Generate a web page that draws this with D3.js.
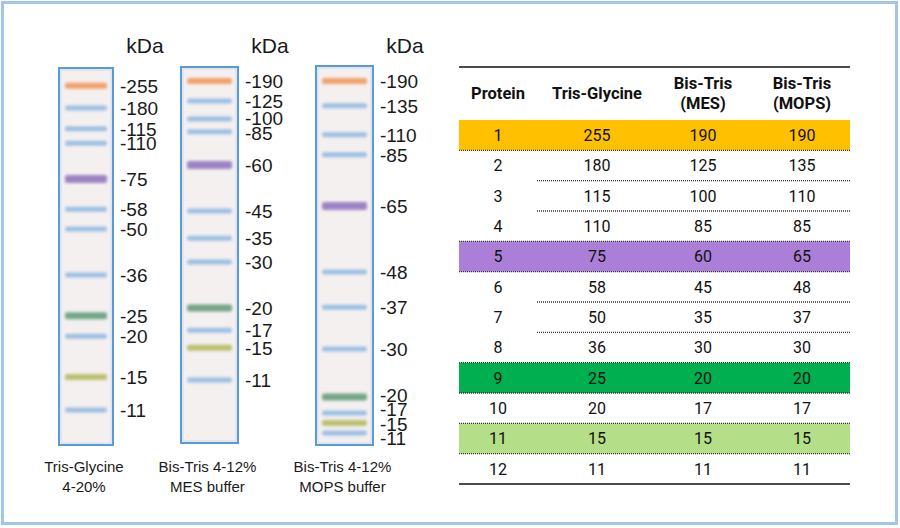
<!DOCTYPE html>
<html>
<head>
<meta charset="utf-8">
<script src="https://cdn.jsdelivr.net/npm/d3@7"></script>
<style>
  body { margin: 0; background: #fff; }
  svg { display: block; }
</style>
</head>
<body>
<div id="chart"></div>
<script>
// Marker proteins (rows of the table / bands of each lane)
const proteins = [1, 2, 3, 4, 5, 6, 7, 8, 9, 10, 11, 12];
const trisGlycine = [255, 180, 115, 110, 75, 58, 50, 36, 25, 20, 15, 11];
const bisTrisMES = [190, 125, 100, 85, 60, 45, 35, 30, 20, 17, 15, 11];
const bisTrisMOPS = [190, 135, 110, 85, 65, 48, 37, 30, 20, 17, 15, 11];

// Relative migration (Rf, 0 = well, 1 = gel bottom)
const rfTrisGlycine = [0.050, 0.109, 0.164, 0.202, 0.297, 0.377, 0.430, 0.552, 0.660, 0.714, 0.822, 0.910];
const rfMES = [0.037, 0.090, 0.138, 0.172, 0.260, 0.382, 0.454, 0.517, 0.639, 0.698, 0.745, 0.830];
const rfMOPS = [0.037, 0.103, 0.180, 0.233, 0.369, 0.544, 0.637, 0.748, 0.875, 0.918, 0.944, 0.971];

// Lane captions and table headers
const laneNames = [["Tris-Glycine", "4-20%"], ["Bis-Tris 4-12%", "MES buffer"], ["Bis-Tris 4-12%", "MOPS buffer"]];
const headers = [["Protein"], ["Tris-Glycine"], ["Bis-Tris", "(MES)"], ["Bis-Tris", "(MOPS)"]];

// Prestained colour of each protein: 1 orange, 5 purple, 9 green, 11 yellow-green, others blue
const bandKind = ["orange", "blue", "blue", "blue", "purple", "blue", "blue", "blue", "green", "blue", "lime", "blue"];
const bandColor = { orange: "#f0995c", blue: "#84b3e0", purple: "#9278bf", green: "#649e7e", lime: "#b4bb62" };
const bandSize = { orange: 6, blue: 5, purple: 8, green: 7, lime: 6 };
const rowColor = { orange: "#ffc000", purple: "#ab7fd8", green: "#00b050", lime: "#b5de88" };

const W = 900, H = 528;
const svg = d3.select("#chart").append("svg")
    .attr("width", W)
    .attr("height", H);

const defs = svg.append("defs");
defs.append("filter")
    .attr("id", "blur")
    .attr("x", "-20%").attr("y", "-200%")
    .attr("width", "140%").attr("height", "500%")
    .append("feGaussianBlur")
    .attr("stdDeviation", "1.8 1.4");

// outer frame
svg.append("rect")
    .attr("x", 2.5).attr("y", 2.5)
    .attr("width", 894).attr("height", 521)
    .attr("fill", "#fff")
    .attr("stroke", "#a3c5e8")
    .attr("stroke-width", 3);

// ---- gel lanes ----
const lanes = [
    { x: 59, top: 68, bottom: 445, w: 54, rf: rfTrisGlycine, kda: trisGlycine, name: laneNames[0] },
    { x: 181, top: 67, bottom: 443, w: 57, rf: rfMES, kda: bisTrisMES, name: laneNames[1] },
    { x: 316, top: 66, bottom: 445, w: 57, rf: rfMOPS, kda: bisTrisMOPS, name: laneNames[2] }
];

// push labels apart so they don't overlap
function declutter(ys, gap) {
    const out = ys.slice();
    for (let it = 0; it < 200; it++) {
        let moved = false;
        for (let i = 1; i < out.length; i++) {
            const d = out[i] - out[i - 1];
            if (d < gap - 0.01) {
                const p = (gap - d) / 2;
                out[i - 1] -= p;
                out[i] += p;
                moved = true;
            }
        }
        if (!moved) break;
    }
    return out;
}

const gelFont = "'Liberation Sans', Arial, sans-serif";

lanes.forEach(lane => {
    const y = d3.scaleLinear().domain([0, 1]).range([67, 444]);
    const g = svg.append("g");

    g.append("rect")
        .attr("x", lane.x).attr("y", lane.top)
        .attr("width", lane.w).attr("height", lane.bottom - lane.top)
        .attr("fill", "#f5f0f0")
        .attr("stroke", "#5b9bd5")
        .attr("stroke-width", 2);
    g.append("rect")
        .attr("x", lane.x + 2).attr("y", lane.top + 2)
        .attr("width", lane.w - 4).attr("height", lane.bottom - lane.top - 4)
        .attr("fill", "none")
        .attr("stroke", "#c9dcef")
        .attr("stroke-width", 1);

    g.selectAll(".band")
        .data(lane.rf.map((r, i) => ({ r, kind: bandKind[i] })))
        .enter()
        .append("rect")
        .attr("class", "band")
        .attr("x", lane.x + 6)
        .attr("width", lane.w - 12)
        .attr("y", d => y(d.r) - bandSize[d.kind] / 2)
        .attr("height", d => bandSize[d.kind])
        .attr("rx", 2)
        .attr("fill", d => bandColor[d.kind])
        .attr("opacity", d => d.kind === "blue" ? 0.8 : 0.9)
        .attr("filter", "url(#blur)");

    const labelY = declutter(lane.rf.map(r => y(r)), 14.5);
    g.selectAll(".tick")
        .data(lane.kda)
        .enter()
        .append("text")
        .attr("x", lane.x + lane.w + 7)
        .attr("y", (d, i) => labelY[i])
        .attr("dy", "0.36em")
        .attr("font-family", gelFont)
        .attr("font-size", 19)
        .attr("fill", "#1a1a1a")
        .text(d => "-" + d);

    g.append("text")
        .attr("x", lane.x + lane.w + 32)
        .attr("y", 46)
        .attr("dy", "0.33em")
        .attr("text-anchor", "middle")
        .attr("font-family", gelFont)
        .attr("font-size", 21)
        .attr("fill", "#1a1a1a")
        .text("kDa");

    g.selectAll(".cap")
        .data(lane.name)
        .enter()
        .append("text")
        .attr("x", lane.x + lane.w / 2 - 2)
        .attr("y", (d, i) => 467 + i * 20)
        .attr("dy", "0.36em")
        .attr("text-anchor", "middle")
        .attr("font-family", gelFont)
        .attr("font-size", 15)
        .attr("fill", "#1a1a1a")
        .text(d => d);
});

// ---- table ----
const tableFont = "Roboto, 'Liberation Sans', Arial, sans-serif";
const tLeft = 459, tRight = 850, tTop = 67, headBottom = 120, tBottom = 484;
const colX = [498, 597, 703, 802];
const row = d3.scaleBand().domain(proteins).range([headBottom, tBottom]);
const tg = svg.append("g");

const rows = proteins.map((p, i) => ({
    p, kind: bandKind[i], values: [p, trisGlycine[i], bisTrisMES[i], bisTrisMOPS[i]]
}));

tg.selectAll(".rowbg")
    .data(rows.filter(d => d.kind !== "blue"))
    .enter()
    .append("rect")
    .attr("x", tLeft)
    .attr("width", tRight - tLeft)
    .attr("y", d => row(d.p))
    .attr("height", row.bandwidth())
    .attr("fill", d => rowColor[d.kind]);

// dotted separators between rows
const seps = rows.slice(1).map((d, i) => {
    const prev = rows[i];
    const full = prev.kind !== "blue" || d.kind !== "blue";
    return { y: row(d.p), full };
});
tg.selectAll(".sep")
    .data(seps)
    .enter()
    .append("line")
    .attr("x1", d => d.full ? tLeft : 537)
    .attr("x2", tRight)
    .attr("y1", d => d.y)
    .attr("y2", d => d.y)
    .attr("stroke", "#333")
    .attr("stroke-width", 1.4)
    .attr("stroke-dasharray", "1,1");

[tTop, tBottom].forEach(yy => {
    tg.append("line")
        .attr("x1", tLeft).attr("x2", tRight)
        .attr("y1", yy).attr("y2", yy)
        .attr("stroke", "#111")
        .attr("stroke-width", 1.4);
});

headers.forEach((h, c) => {
    h.forEach((t, k) => {
        tg.append("text")
            .attr("x", colX[c])
            .attr("y", (tTop + headBottom) / 2 + (k - (h.length - 1) / 2) * 20)
            .attr("dy", "0.36em")
            .attr("text-anchor", "middle")
            .attr("font-family", tableFont)
            .attr("font-weight", "bold")
            .attr("font-size", 16.5)
            .attr("fill", "#111")
            .text(t);
    });
});

rows.forEach(d => {
    tg.selectAll(null)
        .data(d.values)
        .enter()
        .append("text")
        .attr("x", (v, c) => colX[c])
        .attr("y", row(d.p) + row.bandwidth() / 2)
        .attr("dy", "0.36em")
        .attr("text-anchor", "middle")
        .attr("font-family", tableFont)
        .attr("font-size", 16)
        .attr("fill", "#111")
        .text(v => v);
});
</script>
</body>
</html>
